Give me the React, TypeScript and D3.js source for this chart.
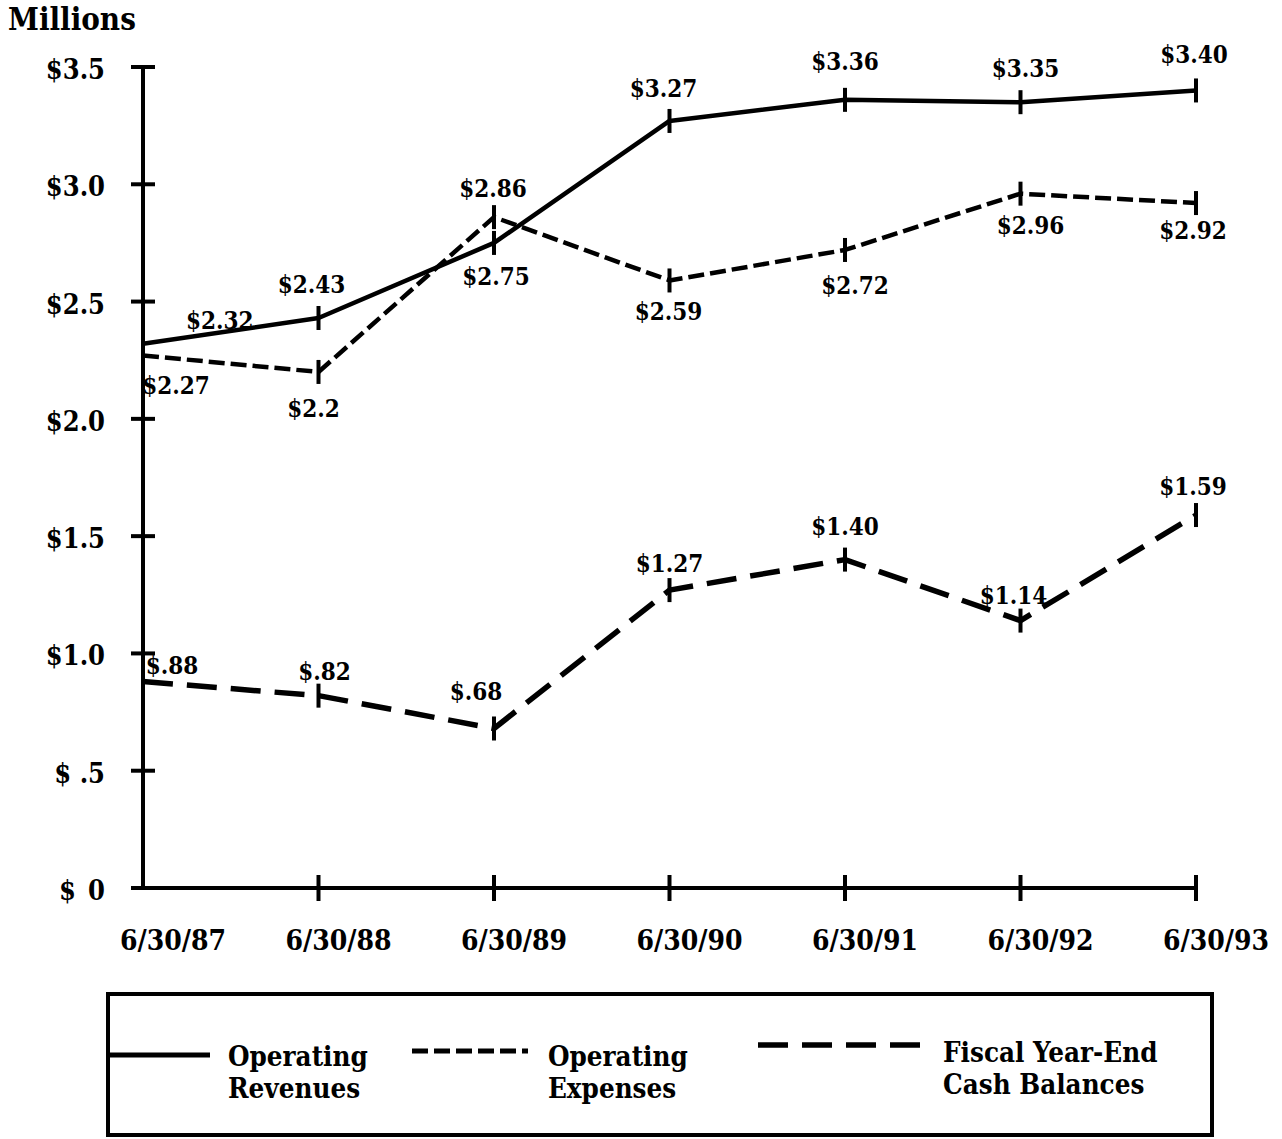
import React from "react";
import * as d3 from "d3";

// Fiscal year-end dates (x categories)
const dates = ["6/30/87", "6/30/88", "6/30/89", "6/30/90", "6/30/91", "6/30/92", "6/30/93"];

// Series values, in millions of dollars
const revenues = [2.32, 2.43, 2.75, 3.27, 3.36, 3.35, 3.4];
const expenses = [2.27, 2.2, 2.86, 2.59, 2.72, 2.96, 2.92];
const cash = [0.88, 0.82, 0.68, 1.27, 1.4, 1.14, 1.59];

// Printed value labels
const revenueLabels = ["$2.32", "$2.43", "$2.75", "$3.27", "$3.36", "$3.35", "$3.40"];
const expenseLabels = ["$2.27", "$2.2", "$2.86", "$2.59", "$2.72", "$2.96", "$2.92"];
const cashLabels = ["$.88", "$.82", "$.68", "$1.27", "$1.40", "$1.14", "$1.59"];

// Y axis ticks
const yTicks = [0, 0.5, 1.0, 1.5, 2.0, 2.5, 3.0, 3.5];
const yTickLabels = ["$\u20020", "$ .5", "$1.0", "$1.5", "$2.0", "$2.5", "$3.0", "$3.5"];

// Label placement offsets [dx, dy, anchor] relative to each point
const revenueLabelPos: [number, number, string][] = [
  [43, -15, "start"], [-7, -25, "middle"], [2, 42, "middle"], [-6, -24, "middle"],
  [0, -30, "middle"], [5, -25, "middle"], [-2, -27, "middle"],
];
const expenseLabelPos: [number, number, string][] = [
  [33, 38, "middle"], [-5, 45, "middle"], [-1, -20, "middle"], [-1, 40, "middle"],
  [10, 44, "middle"], [10, 40, "middle"], [-3, 36, "middle"],
];
const cashLabelPos: [number, number, string][] = [
  [29, -8, "middle"], [6, -16, "middle"], [-18, -28, "middle"], [0, -18, "middle"],
  [0, -25, "middle"], [-7, -17, "middle"], [-3, -20, "middle"],
];

const FONT = "'DejaVu Serif', serif";

export default function App() {
  const x = d3.scalePoint<string>().domain(dates).range([143, 1196]);
  const y = d3.scaleLinear().domain([0, 3.5]).range([888, 67]);

  const line = d3
    .line<number>()
    .x((_, i) => x(dates[i]) as number)
    .y((d) => y(d));

  const series = [
    { values: revenues, labels: revenueLabels, pos: revenueLabelPos, dash: "none", width: 4.5 },
    { values: expenses, labels: expenseLabels, pos: expenseLabelPos, dash: "16 6", width: 4.5 },
    { values: cash, labels: cashLabels, pos: cashLabelPos, dash: "30 14", width: 5.5 },
  ];

  const textStyle: React.CSSProperties = {
    fontFamily: FONT,
    fontWeight: "bold",
    fontStretch: "condensed",
  };

  return (
    <svg width={1282} height={1139} style={{ position: "absolute", left: 0, top: 0, background: "#fff" }}>
      <rect width={1282} height={1139} fill="#fff" />
      <g style={textStyle} fill="#000">
        <text x={8} y={30} fontSize={31}>Millions</text>

        {/* axes */}
        <line x1={143} x2={143} y1={y(3.5)} y2={y(0) + 2} stroke="#000" strokeWidth={4} />
        <line x1={141} x2={x(dates[dates.length - 1]) as number} y1={y(0)} y2={y(0)} stroke="#000" strokeWidth={4} />

        {yTicks.map((t, i) => (
          <g key={"yt" + i}>
            <line x1={131} x2={155} y1={y(t)} y2={y(t)} stroke="#000" strokeWidth={4} />
            <text x={105} y={y(t) + 12} fontSize={27} textAnchor="end" style={{ whiteSpace: "pre" }}>
              {yTickLabels[i]}
            </text>
          </g>
        ))}

        {dates.map((d, i) => (
          <g key={"xt" + i}>
            {i > 0 && (
              <line x1={x(d)} x2={x(d)} y1={y(0) - 13} y2={y(0) + 13} stroke="#000" strokeWidth={4} />
            )}
            <text x={(x(d) as number) + (i === 0 ? 30 : 20)} y={950} fontSize={28} textAnchor="middle">
              {d}
            </text>
          </g>
        ))}

        {/* series */}
        {series.map((s, si) => (
          <g key={"s" + si}>
            <path
              d={line(s.values) || ""}
              fill="none"
              stroke="#000"
              strokeWidth={s.width}
              strokeDasharray={s.dash}
              strokeLinejoin="round"
            />
            {s.values.map((v, i) => (
              <line
                key={"m" + i}
                x1={x(dates[i])}
                x2={x(dates[i])}
                y1={y(v) - 12}
                y2={y(v) + 12}
                stroke="#000"
                strokeWidth={4}
              />
            ))}
            {s.values.map((v, i) => (
              <text
                key={"l" + i}
                x={(x(dates[i]) as number) + s.pos[i][0]}
                y={y(v) + s.pos[i][1]}
                fontSize={24}
                textAnchor={s.pos[i][2] as any}
              >
                {s.labels[i]}
              </text>
            ))}
          </g>
        ))}

        {/* legend */}
        <rect x={108} y={994} width={1104} height={141} fill="none" stroke="#000" strokeWidth={4} />
        <line x1={108} x2={210} y1={1055} y2={1055} stroke="#000" strokeWidth={5} />
        <text x={228} y={1066} fontSize={27.5}>Operating</text>
        <text x={228} y={1098} fontSize={27.5}>Revenues</text>

        <line x1={412} x2={528} y1={1051} y2={1051} stroke="#000" strokeWidth={5} strokeDasharray="16 6" />
        <text x={548} y={1066} fontSize={27.5}>Operating</text>
        <text x={548} y={1098} fontSize={27.5}>Expenses</text>

        <line x1={758} x2={922} y1={1045} y2={1045} stroke="#000" strokeWidth={5.5} strokeDasharray="30 14" />
        <text x={943} y={1062} fontSize={27.5}>Fiscal Year-End</text>
        <text x={943} y={1094} fontSize={27.5}>Cash Balances</text>
      </g>
    </svg>
  );
}
